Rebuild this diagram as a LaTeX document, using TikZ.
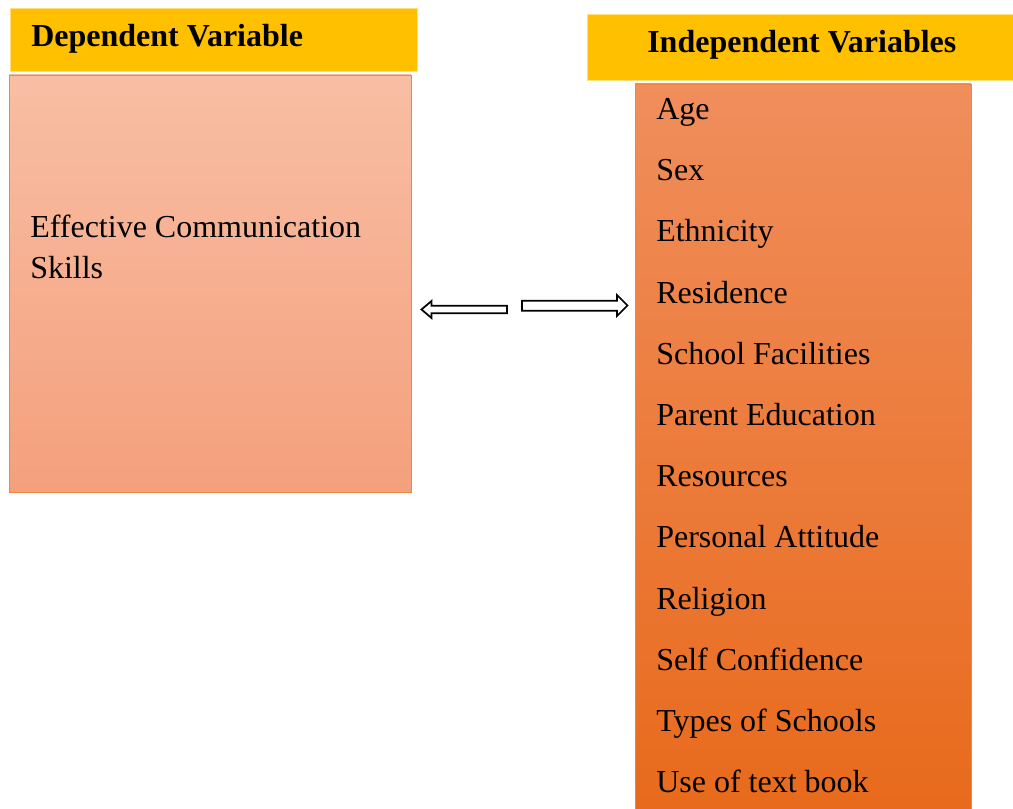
\documentclass[tikz,border=0pt]{standalone}
\usepackage{fontspec}
\setmainfont{Liberation Serif}

\definecolor{headyellow}{RGB}{255,192,0}
\definecolor{depTop}{RGB}{248,190,164}
\definecolor{depBottom}{RGB}{244,160,124}
\definecolor{indTop}{RGB}{240,142,92}
\definecolor{indBottom}{RGB}{232,106,28}
\definecolor{boxline}{RGB}{244,132,64}

\begin{document}
\begin{tikzpicture}[x=0.75pt, y=-0.75pt,
    header/.style={fill=headyellow, draw=headyellow!50, line width=0.6pt},
    title/.style={anchor=base west, inner sep=0pt, font=\fontsize{24}{28}\selectfont\bfseries},
    item/.style={anchor=base west, inner sep=0pt, font=\fontsize{24}{30.75}\selectfont},
    blockarrow/.style={draw=black, fill=white, line width=1.3pt, line join=miter}]
    \useasboundingbox (0,0) rectangle (1013,809);

    % header bars
    \path[header] (10,8) rectangle (417,71);
    \path[header] (587,14) rectangle (1013,80);
    \node[title] (dephead) at (31,47) {Dependent Variable};
    \node[title] (indhead) at (647,53) {Independent Variables};

    % dependent variable box
    \path[draw=boxline, line width=0.7pt, top color=depTop, bottom color=depBottom]
        (9,75) rectangle (411,492);
    \node[item, align=left] (dep) at (30,278)
        {Effective Communication\\Skills};

    % independent variables box
    \path[draw=boxline, line width=0.7pt, top color=indTop, bottom color=indBottom]
        (635,84) rectangle (971,812);
    \foreach \name [count=\i from 0] in {Age, Sex, Ethnicity, Residence,
        School Facilities, Parent Education, Resources, Personal Attitude,
        Religion, Self Confidence, Types of Schools, Use of text book}
        \node[item] (var\i) at (656,{119.5+61.2*\i}) {\name};

    % block arrows between the boxes
    \coordinate (ltip) at (421.5,309.5);
    \coordinate (rtip) at (627.5,305.5);
    \draw[blockarrow] (ltip) -- (431.5,301) -- (431.5,305.7) -- (507,305.7)
        -- (507,313.3) -- (431.5,313.3) -- (431.5,318) -- cycle;
    \draw[blockarrow] (rtip) -- (617,295) -- (617,300.7) -- (522,300.7)
        -- (522,310.7) -- (617,310.7) -- (617,316) -- cycle;
\end{tikzpicture}
\end{document}
